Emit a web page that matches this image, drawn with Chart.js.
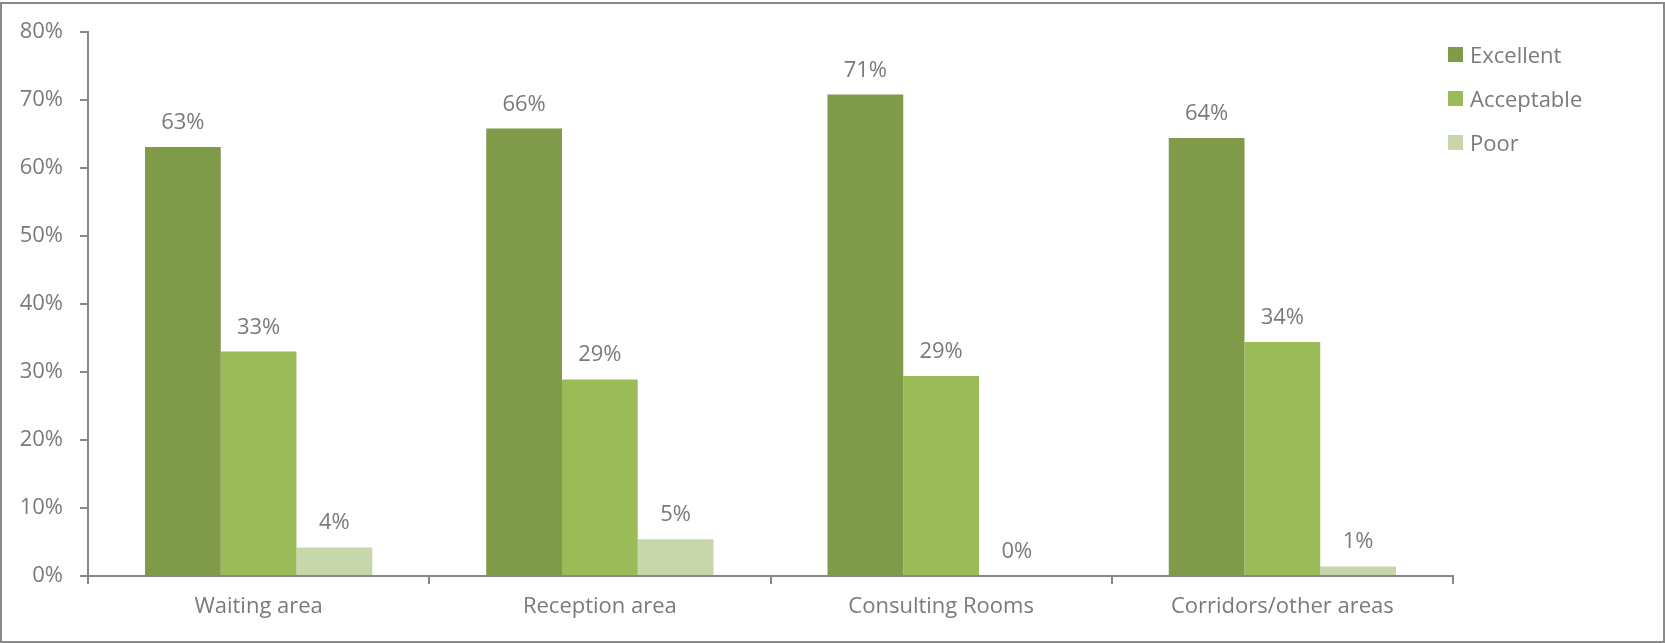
<!DOCTYPE html>
<html>
<head>
<meta charset="utf-8">
<script src="https://cdn.jsdelivr.net/npm/chart.js@4"></script>
<style>
html,body{margin:0;padding:0;background:#fff;}
#wrap{position:absolute;left:0;top:0;width:1665px;height:643px;}
</style>
</head>
<body>
<div id="wrap"><canvas id="c" width="1665" height="643"></canvas></div>
<script>
const categories = ["Waiting area", "Reception area", "Consulting Rooms", "Corridors/other areas"];
const seriesNames = ["Excellent", "Acceptable", "Poor"];
const excellent = [63.1, 65.8, 70.8, 64.4];
const acceptable = [33.0, 28.9, 29.4, 34.4];
const poor = [4.2, 5.4, 0, 1.4];
const yTicks = [0, 10, 20, 30, 40, 50, 60, 70, 80];
const colors = ["#7f9a48", "#9bbb59", "#c7d6ab"];

const FONT = "'Open Sans', sans-serif";
const TEXT = "#7a7a7a";
const AXIS = "#878787";

const labelPlugin = {
  id: 'valueLabels',
  afterDatasetsDraw(chart) {
    const ctx = chart.ctx;
    ctx.save();
    ctx.font = "22px " + FONT;
    ctx.fillStyle = TEXT;
    ctx.textAlign = 'center';
    ctx.textBaseline = 'alphabetic';
    chart.data.datasets.forEach((ds, i) => {
      const meta = chart.getDatasetMeta(i);
      meta.data.forEach((el, j) => {
        ctx.fillText(Math.round(ds.data[j]) + '%', el.x, el.y - 18);
      });
    });
    ctx.restore();
  }
};

const legendPlugin = {
  id: 'sideLegend',
  afterDraw(chart) {
    const ctx = chart.ctx;
    ctx.save();
    ctx.font = "22px " + FONT;
    ctx.textAlign = 'left';
    ctx.textBaseline = 'alphabetic';
    chart.data.datasets.forEach((ds, i) => {
      ctx.fillStyle = ds.backgroundColor;
      ctx.fillRect(1448, 47 + 44 * i, 15, 15);
      ctx.fillStyle = TEXT;
      ctx.fillText(ds.label, 1470, 62.5 + 44 * i);
    });
    ctx.strokeStyle = "#898989";
    ctx.lineWidth = 2;
    ctx.strokeRect(1, 3, 1663, 639);
    ctx.restore();
  }
};

new Chart(document.getElementById('c'), {
  type: 'bar',
  data: {
    labels: categories,
    datasets: [
      { label: seriesNames[0], data: excellent, backgroundColor: colors[0] },
      { label: seriesNames[1], data: acceptable, backgroundColor: colors[1] },
      { label: seriesNames[2], data: poor, backgroundColor: colors[2] }
    ]
  },
  options: {
    responsive: false,
    animation: false,
    devicePixelRatio: 1,
    layout: { padding: { left: 2, right: 212, top: 32, bottom: 0 } },
    datasets: { bar: { categoryPercentage: 0.666, barPercentage: 1.0, borderWidth: 0 } },
    plugins: { legend: { display: false }, tooltip: { enabled: false } },
    scales: {
      x: {
        grid: { display: true, drawOnChartArea: false, drawTicks: true, tickLength: 8, color: AXIS, lineWidth: 2, offset: true },
        border: { display: true, color: AXIS, width: 2 },
        ticks: { color: TEXT, font: { family: FONT, size: 22 }, padding: 10, maxRotation: 0 },
        afterFit(scale) { scale.height = 67; }
      },
      y: {
        min: 0, max: 80,
        afterBuildTicks(scale) { scale.ticks = yTicks.map(v => ({ value: v })); },
        grid: { display: true, drawOnChartArea: false, drawTicks: true, tickLength: 8, color: AXIS, lineWidth: 2 },
        border: { display: true, color: AXIS, width: 2 },
        ticks: { color: TEXT, font: { family: FONT, size: 22 }, padding: 17, callback: v => v + '%' },
        afterFit(scale) { scale.width = 86; }
      }
    }
  },
  plugins: [labelPlugin, legendPlugin]
});
</script>
</body>
</html>
